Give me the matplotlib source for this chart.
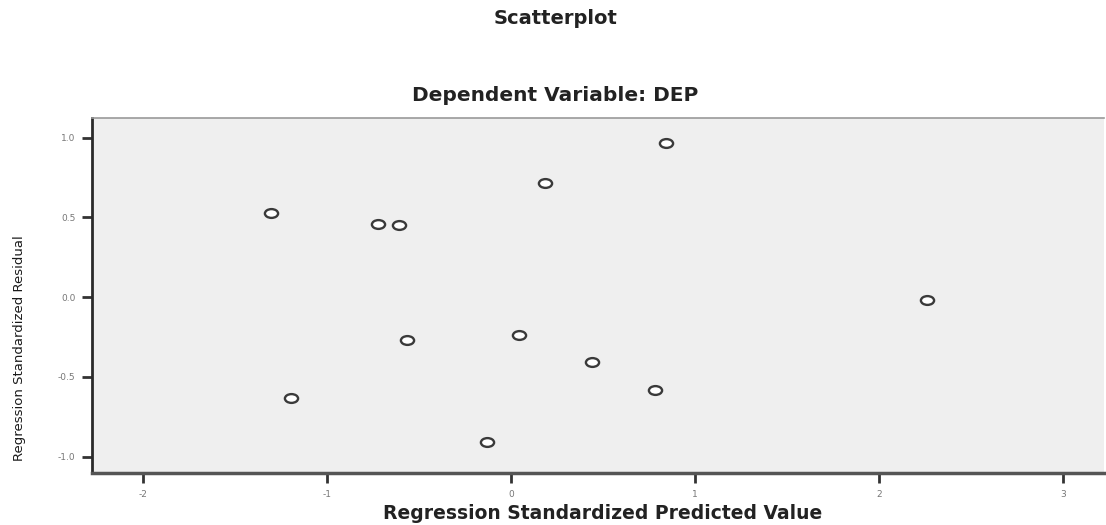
import matplotlib
matplotlib.use('Agg')
import matplotlib.pyplot as plt
from matplotlib.path import Path
from matplotlib.transforms import Affine2D

# standardized predicted value (x) and standardized residual (y)
pred_values = [0.842, 0.185, -1.304, -0.723, -0.609, 2.261, 0.043, -0.565, 0.440, 0.783, -1.196, -0.130]
resid_values = [0.965, 0.715, 0.527, 0.458, 0.451, -0.019, -0.238, -0.270, -0.408, -0.583, -0.633, -0.909]

x_ticks = [-2, -1, 0, 1, 2, 3]
x_tick_labels = ['-2', '-1', '0', '1', '2', '3']
y_ticks = [-1.0, -0.5, 0.0, 0.5, 1.0]
y_tick_labels = ['-1.0', '-0.5', '0.0', '0.5', '1.0']

# the picture is stretched sideways, so the circles come out as flat ellipses
ellipse = Path.unit_circle().transformed(Affine2D().scale(1.5, 1.0))

fig = plt.figure(figsize=(11.06, 5.25), dpi=100)
ax = fig.add_axes([0.0832, 0.099, 0.915, 0.676])
ax.set_facecolor('#efefef')

ax.plot(pred_values, resid_values, linestyle='none', marker=ellipse, markersize=9.5,
        markerfacecolor='white', markeredgecolor='#3a3a3a', markeredgewidth=1.7)

ax.set_xlim(-2.277, 3.223)
ax.set_ylim(-1.103, 1.122)
ax.set_xticks(x_ticks)
ax.set_xticklabels(x_tick_labels)
ax.set_yticks(y_ticks)
ax.set_yticklabels(y_tick_labels)
ax.tick_params(axis='both', direction='out', length=7, width=2, color='#333333',
               labelsize=6.5, labelcolor='#777777', pad=5)

ax.spines['right'].set_visible(False)
ax.spines['top'].set_color('#999999')
ax.spines['top'].set_linewidth(1.2)
ax.spines['left'].set_color('#2a2a2a')
ax.spines['left'].set_linewidth(2)
ax.spines['bottom'].set_color('#555555')
ax.spines['bottom'].set_linewidth(2.5)

fig.text(0.502, 0.964, 'Scatterplot', ha='center', va='center',
         fontsize=14, fontweight='bold', color='#222222')
fig.text(0.502, 0.819, 'Dependent Variable: DEP', ha='center', va='center',
         fontsize=14.5, fontweight='bold', color='#222222')
fig.text(0.545, 0.021, 'Regression Standardized Predicted Value', ha='center', va='center',
         fontsize=13.5, fontweight='bold', color='#222222')
fig.text(0.018, 0.337, 'Regression Standardized Residual', ha='center', va='center',
         rotation=90, fontsize=9.5, color='#1a1a1a')

fig.savefig('out.png', dpi=100)
